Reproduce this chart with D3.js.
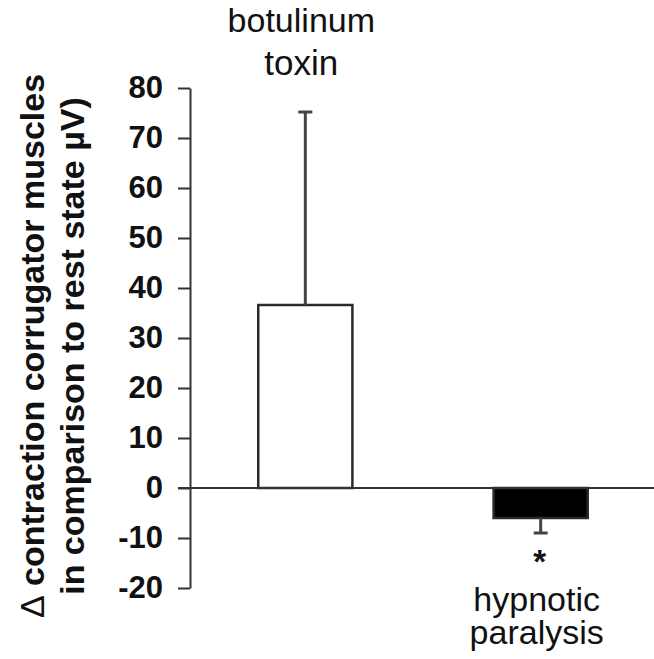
<!DOCTYPE html>
<html>
<head>
<meta charset="utf-8">
<script src="https://cdn.jsdelivr.net/npm/d3@7"></script>
<style>
  body { margin: 0; background: #fff; }
  svg { display: block; font-family: "Liberation Sans", Arial, sans-serif; }
</style>
</head>
<body>
<script>
// groups, means and the one-sided error bars (SD)
const groups = ["botulinum toxin", "hypnotic paralysis"];
const means = [36.6, -6];
const errorEnds = [75.2, -9];
const fills = ["#ffffff", "#000000"];
const yTicks = [-20, -10, 0, 10, 20, 30, 40, 50, 60, 70, 80];
const groupLabels = [["botulinum", "toxin"], ["hypnotic", "paralysis"]];
const starred = [false, true];

const width = 654, height = 659;

const svg = d3.select("body").append("svg")
  .attr("width", width)
  .attr("height", height);

const y = d3.scaleLinear().domain([-20, 80]).range([588, 88]);
const x = d3.scaleBand().domain(groups).range([190, 656])
  .paddingInner(0.6).paddingOuter(0.29);

// y axis, plain hyphen for negatives like the original
const yAxis = svg.append("g")
  .attr("transform", "translate(190,0)")
  .call(d3.axisLeft(y).tickValues(yTicks).tickFormat(d => String(d))
    .tickSize(12).tickSizeOuter(0).tickPadding(15));
yAxis.selectAll("path, line").attr("stroke", "#333").attr("stroke-width", 2);
yAxis.selectAll("text")
  .attr("font-size", 31)
  .attr("font-weight", "bold")
  .attr("fill", "#111")
  .attr("font-family", "'Liberation Sans', Arial, sans-serif");

// bars
svg.selectAll("rect.bar")
  .data(groups)
  .enter()
  .append("rect")
  .attr("class", "bar")
  .attr("x", d => x(d))
  .attr("width", x.bandwidth())
  .attr("y", (d, i) => y(Math.max(0, means[i])))
  .attr("height", (d, i) => Math.abs(y(means[i]) - y(0)))
  .attr("fill", (d, i) => fills[i])
  .attr("stroke", "#2a2a2a")
  .attr("stroke-width", 2.5);

// error bars (one-sided)
const cx = d => x(d) + x.bandwidth() / 2;
svg.selectAll("line.err")
  .data(groups)
  .enter()
  .append("line")
  .attr("x1", cx).attr("x2", cx)
  .attr("y1", (d, i) => y(means[i]))
  .attr("y2", (d, i) => y(errorEnds[i]))
  .attr("stroke", "#444")
  .attr("stroke-width", 3);

svg.selectAll("line.cap")
  .data(groups)
  .enter()
  .append("line")
  .attr("x1", d => cx(d) - 7).attr("x2", d => cx(d) + 7)
  .attr("y1", (d, i) => y(errorEnds[i]))
  .attr("y2", (d, i) => y(errorEnds[i]))
  .attr("stroke", "#444")
  .attr("stroke-width", 3);

// zero line across
svg.append("line")
  .attr("x1", 178).attr("x2", width)
  .attr("y1", y(0)).attr("y2", y(0))
  .attr("stroke", "#333")
  .attr("stroke-width", 2);

// group labels: above for positive bar, below for negative bar
groups.forEach((g, i) => {
  const lines = groupLabels[i];
  const base = means[i] >= 0 ? [32, 75] : [611, 644];
  lines.forEach((t, j) => {
    svg.append("text")
      .attr("x", cx(g) - 4)
      .attr("y", base[j])
      .attr("text-anchor", "middle")
      .attr("font-size", j === 1 && i === 0 ? 35 : 34)
      .attr("fill", "#111")
      .text(t);
  });
  if (starred[i]) {
    svg.append("text")
      .attr("x", cx(g) - 1)
      .attr("y", y(errorEnds[i]) + 40)
      .attr("text-anchor", "middle")
      .attr("font-size", 33)
      .attr("font-weight", "bold")
      .attr("fill", "#111")
      .text("*");
  }
});

// y axis title, two rotated lines
const titleLines = ["\u0394 contraction corrugator muscles", "in comparison to rest state \u00b5V)"];
const titleX = [44, 84];
titleLines.forEach((t, i) => {
  const tx = svg.append("text")
    .attr("transform", `translate(${titleX[i]},346) rotate(-90)`)
    .attr("text-anchor", "middle")
    .attr("font-size", 34)
    .attr("font-weight", "bold")
    .attr("fill", "#111");
  if (i === 0) {
    tx.append("tspan").attr("font-weight", "normal").text("\u0394");
    tx.append("tspan").text(t.slice(1));
  } else {
    tx.text(t);
  }
});
</script>
</body>
</html>
